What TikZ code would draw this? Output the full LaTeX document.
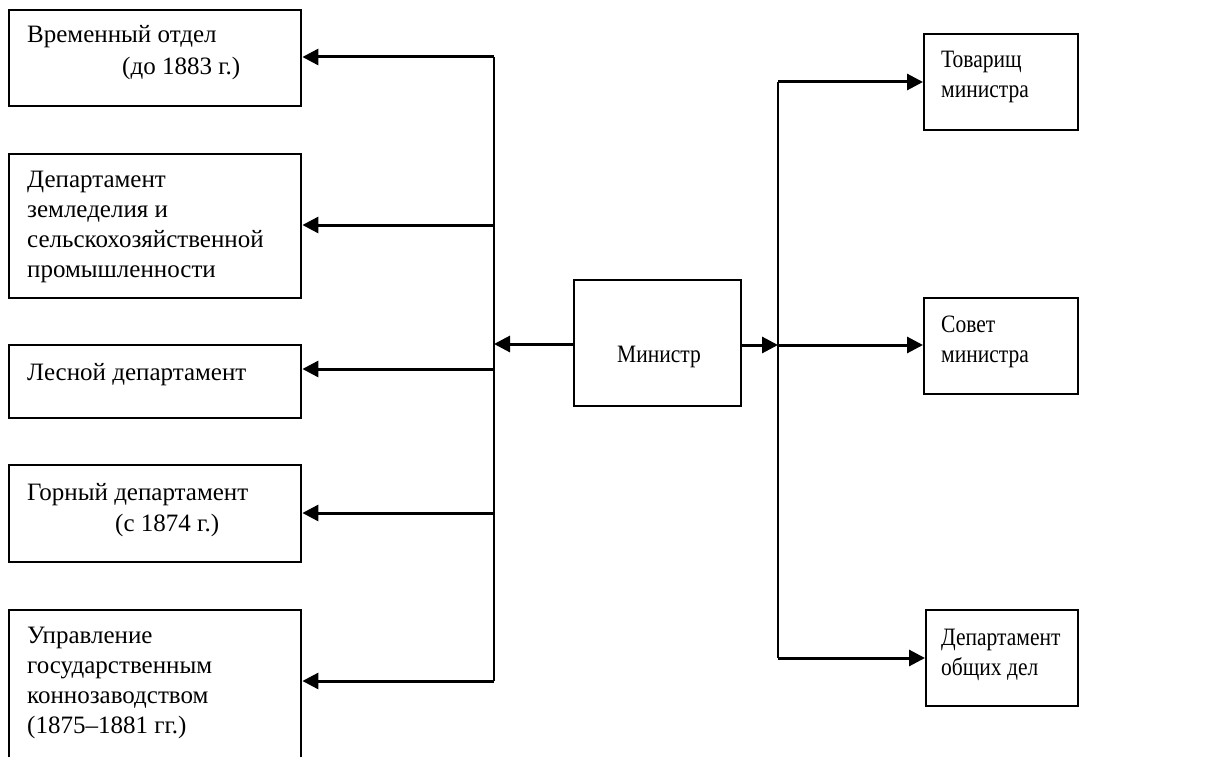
\documentclass[tikz,border=0pt]{standalone}
\usepackage{fontspec}
\setmainfont{Liberation Serif}
\newfontfamily\condfont{Liberation Serif}[FakeStretch=0.86]
\usetikzlibrary{arrows.meta}
\begin{document}
\begin{tikzpicture}[x=1pt,y=-1pt,
  box/.style={draw,line width=2.4pt,minimum width=#1,inner sep=0pt,anchor=north west},
  lbl/.style={anchor=base west,inner sep=0pt,font=\fontsize{25}{30}\selectfont},
  rlbl/.style={anchor=base west,inner sep=0pt,font=\condfont\fontsize{25}{30}\selectfont},
  arr/.style={line width=3pt,-{Triangle[length=16pt,width=16pt]}},
  trunk/.style={line width=2.4pt}]
\clip (0,0) rectangle (1216,757);
\fill[white] (0,0) rectangle (1216,757);
% left boxes
\node[box=292pt,minimum height=96pt] (b1) at (8,9) {};
\node[box=292pt,minimum height=144pt] (b2) at (8,153) {};
\node[box=292pt,minimum height=73pt] (b3) at (8,344) {};
\node[box=292pt,minimum height=97pt] (b4) at (8,464) {};
\node[box=292pt,minimum height=180pt] (b5) at (8,609) {};
% texts left
\node[lbl] (t1a) at (27,43) {Временный отдел};
\node[lbl] (t1b) at (122,75) {(до 1883 г.)};
\node[lbl] (t2a) at (27,187) {Департамент};
\node[lbl] (t2b) at (27,217) {земледелия и};
\node[lbl] (t2c) at (27,247) {сельскохозяйственной};
\node[lbl] (t2d) at (27,277) {промышленности};
\node[lbl] (t3a) at (27,380) {Лесной департамент};
\node[lbl] (t4a) at (27,500) {Горный департамент};
\node[lbl] (t4b) at (115,531) {(с 1874 г.)};
\node[lbl] (t5a) at (27,643) {Управление};
\node[lbl] (t5b) at (27,673) {государственным};
\node[lbl] (t5c) at (27,703) {коннозаводством};
\node[lbl] (t5d) at (27,733) {(1875–1881 гг.)};
% minister
\node[box=167pt,minimum height=126pt] (m) at (573,279) {};
\node[rlbl] (mt) at (617,362) {Министр};
% right boxes
\node[box=154pt,minimum height=96pt] (r1) at (923,33) {};
\node[box=154pt,minimum height=96pt] (r2) at (923,297) {};
\node[box=152pt,minimum height=96pt] (r3) at (925,609) {};
\node[rlbl] (s1a) at (941,68) {Товарищ};
\node[rlbl] (s1b) at (941,98) {министра};
\node[rlbl] (s2a) at (941,332) {Совет};
\node[rlbl] (s2b) at (941,362) {министра};
\node[rlbl] (s3a) at (941,645) {Департамент};
\node[rlbl] (s3b) at (941,675) {общих дел};
% left trunk
\coordinate (L1) at (494,57);
\coordinate (L2) at (494,225);
\coordinate (L3) at (494,369);
\coordinate (L4) at (494,513);
\coordinate (L5) at (494,681);
\coordinate (Lm) at (494,344);
\draw[trunk] (L1) -- (L5);
\draw[arr] (L1) -- (b1.east |- L1);
\draw[arr] (L2) -- (b2.east |- L2);
\draw[arr] (L3) -- (b3.east |- L3);
\draw[arr] (L4) -- (b4.east |- L4);
\draw[arr] (L5) -- (b5.east |- L5);
\draw[arr] (m.west |- Lm) -- (Lm);
% right trunk
\coordinate (R1) at (778,82);
\coordinate (Rm) at (778,345);
\coordinate (R3) at (778,658);
\draw[trunk] (R1) -- (R3);
\draw[arr] (m.east |- Rm) -- (Rm);
\draw[arr] (R1) -- (r1.west |- R1);
\draw[arr] (Rm) -- (r2.west |- Rm);
\draw[arr] (R3) -- (r3.west |- R3);
\end{tikzpicture}
\end{document}
